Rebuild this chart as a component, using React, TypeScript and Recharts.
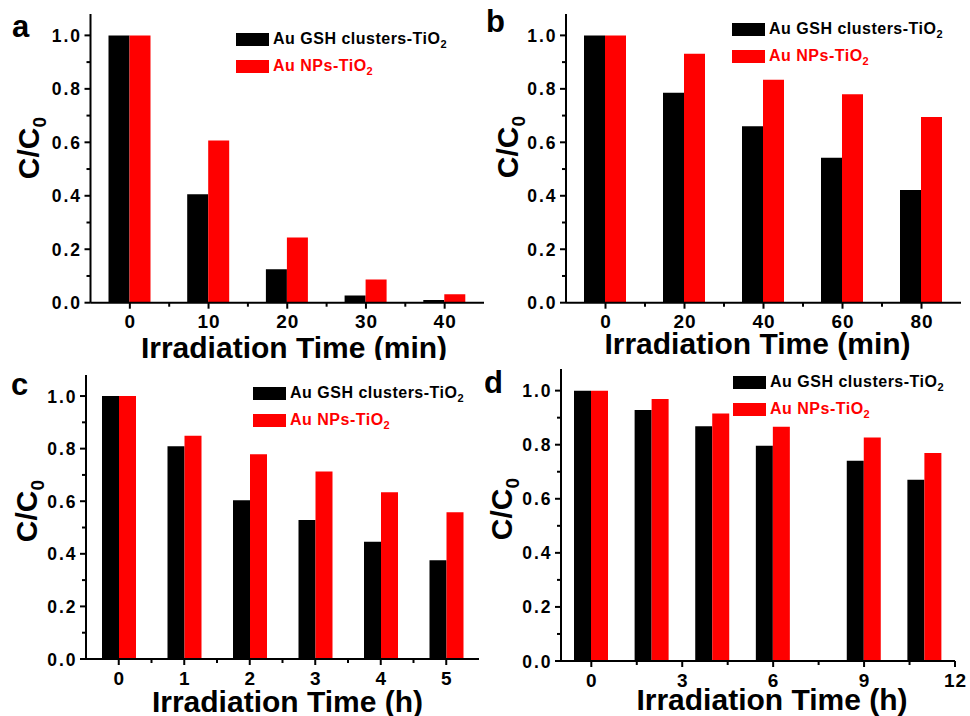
import { BarChart, Bar, XAxis, YAxis, Legend } from 'recharts'

// ─── Data ─────────────────────────────────────────────────────────────────────
const seriesNames = ['Au GSH clusters-TiO', 'Au NPs-TiO']
const seriesColors = ['#000000', '#ff0000']

const timeA = [0, 10, 20, 30, 40]
const gshA = [1.0, 0.406, 0.125, 0.027, 0.01]
const npsA = [1.0, 0.607, 0.244, 0.087, 0.032]

const timeB = [0, 20, 40, 60, 80]
const gshB = [1.0, 0.785, 0.66, 0.542, 0.422]
const npsB = [1.0, 0.931, 0.834, 0.78, 0.695]

const timeC = [0, 1, 2, 3, 4, 5]
const gshC = [1.0, 0.809, 0.604, 0.529, 0.446, 0.376]
const npsC = [1.0, 0.849, 0.779, 0.713, 0.634, 0.558]

const timeD = [0, 2, 4, 6, 9, 11]
const gshD = [1.0, 0.928, 0.868, 0.796, 0.741, 0.67]
const npsD = [1.0, 0.969, 0.915, 0.866, 0.827, 0.769]

const ticksA = [0, 5, 10, 15, 20, 25, 30, 35, 40]
const ticksB = [0, 10, 20, 30, 40, 50, 60, 70, 80]
const ticksC = [0, 0.5, 1, 1.5, 2, 2.5, 3, 3.5, 4, 4.5, 5]
const ticksD = [0, 1.5, 3, 4.5, 6, 7.5, 9, 10.5, 12]
const yTicks = [0, 0.1, 0.2, 0.3, 0.4, 0.5, 0.6, 0.7, 0.8, 0.9, 1.0]

const FONT = '"Liberation Sans", Arial, Helvetica, sans-serif'

const isMajor = (v: number, step: number) => Math.abs(v / step - Math.round(v / step)) < 1e-6

// ─── Panel ────────────────────────────────────────────────────────────────────
interface PanelProps {
  letter: string
  left: number; top: number; width: number; height: number
  plot: { l: number; t: number; r: number; b: number }
  xDomain: [number, number]
  xTicks: number[]
  xStep: number
  xTitle: string
  time: number[]; gsh: number[]; nps: number[]
  barSize: number
  legendPos: { x: number; y: number }
  xTitlePos: { x: number; y: number }
  yTitlePos: { x: number; y: number }
  letterPos: { x: number; y: number }
}

function LegendBox() {
  return (
    <div style={{ fontFamily: FONT, fontWeight: 'bold', fontSize: 16, letterSpacing: 0.5 }}>
      {seriesNames.map((name, i) => (
        <div key={name} style={{ display: 'flex', alignItems: 'center', height: 13, marginBottom: 14, whiteSpace: 'nowrap' }}>
          <div style={{ width: 33, height: 13, background: seriesColors[i] }} />
          <span style={{ marginLeft: 4, color: seriesColors[i], lineHeight: '16px' }}>
            {name}
            <span style={{ fontSize: 11, position: 'relative', top: 4 }}>2</span>
          </span>
        </div>
      ))}
    </div>
  )
}

function Panel(p: PanelProps) {
  const rows = p.time.map((t, i) => ({ t, gsh: p.gsh[i], nps: p.nps[i] }))
  const axisStyle = { stroke: '#000', strokeWidth: 2 }

  const xTick = (props: any) => {
    const { x, y, payload } = props
    const major = isMajor(payload.value, p.xStep)
    return (
      <g>
        <line x1={x} x2={x} y1={y} y2={y + (major ? 6 : 4)} stroke="#000" strokeWidth={2} />
        {major && (
          <text x={x + 0.5} y={y + 25.5} textAnchor="middle" fontFamily={FONT} fontWeight="bold" fontSize={19} letterSpacing={1} fill="#000">
            {payload.value}
          </text>
        )}
      </g>
    )
  }

  const yTick = (props: any) => {
    const { x, y, payload } = props
    const major = isMajor(payload.value, 0.2)
    return (
      <g>
        <line x1={x} x2={x - (major ? 6 : 4)} y1={y} y2={y} stroke="#000" strokeWidth={2} />
        {major && (
          <text x={x - 8.5} y={y + 6.5} textAnchor="end" fontFamily={FONT} fontWeight="bold" fontSize={17.5} letterSpacing={2} fill="#000">
            {payload.value.toFixed(1)}
          </text>
        )}
      </g>
    )
  }

  return (
    <div style={{ position: 'absolute', left: p.left, top: p.top }}>
      <BarChart
        width={p.width}
        height={p.height}
        data={rows}
        barGap={0}
        margin={{ top: p.plot.t, right: p.width - p.plot.r, left: 0, bottom: 0 }}
      >
        <XAxis
          dataKey="t"
          type="number"
          domain={p.xDomain}
          allowDataOverflow
          ticks={p.xTicks}
          interval={0}
          height={p.height - p.plot.b}
          tickSize={0}
          tickMargin={0}
          tickLine={false}
          axisLine={axisStyle}
          tick={xTick}
          label={() => (
            <text x={p.xTitlePos.x} y={p.xTitlePos.y} textAnchor="middle" fontFamily={FONT} fontWeight="bold" fontSize={30} fill="#000">
              {p.xTitle}
            </text>
          )}
        />
        <YAxis
          type="number"
          domain={[0, 1.08]}
          allowDataOverflow
          ticks={yTicks}
          interval={0}
          width={p.plot.l}
          tickSize={0}
          tickMargin={0}
          tickLine={false}
          axisLine={axisStyle}
          tick={yTick}
          label={() => (
            <g>
              <text
                transform={`translate(${p.yTitlePos.x},${p.yTitlePos.y}) rotate(-90)`}
                textAnchor="middle"
                fontFamily={FONT}
                fontWeight="bold"
                fontSize={30}
                fill="#000"
              >
                C/C<tspan fontSize={19} dy={7}>0</tspan>
              </text>
              <text x={p.letterPos.x} y={p.letterPos.y} fontFamily={FONT} fontWeight="bold" fontSize={31} fill="#000">
                {p.letter}
              </text>
            </g>
          )}
        />
        <XAxis xAxisId="top" orientation="top" type="number" domain={p.xDomain} height={0} tick={false} tickLine={false} axisLine={axisStyle} />
        <YAxis yAxisId="right" orientation="right" type="number" domain={[0, 1.08]} width={0} tick={false} tickLine={false} axisLine={axisStyle} />
        <Legend
          layout="horizontal"
          verticalAlign="middle"
          align="center"
          wrapperStyle={{ left: p.legendPos.x, top: p.legendPos.y, width: 'auto', height: 'auto' }}
          content={() => <LegendBox />}
        />
        <Bar dataKey="gsh" name={seriesNames[0]} fill={seriesColors[0]} barSize={p.barSize} isAnimationActive={false} />
        <Bar dataKey="nps" name={seriesNames[1]} fill={seriesColors[1]} barSize={p.barSize} isAnimationActive={false} />
      </BarChart>
    </div>
  )
}

export default function App() {
  return (
    <div style={{ position: 'absolute', left: 0, top: 0, width: 970, height: 716, background: '#fff' }}>
      <Panel
        letter="a" left={0} top={0} width={485} height={360}
        plot={{ l: 90.5, t: 14, r: 484, b: 302.7 }}
        xDomain={[-5, 45]} xTicks={ticksA} xStep={10} xTitle="Irradiation Time (min)"
        time={timeA} gsh={gshA} nps={npsA} barSize={21}
        legendPos={{ x: 236, y: 33 }}
        xTitlePos={{ x: 294, y: 358 }}
        yTitlePos={{ x: 39, y: 148 }}
        letterPos={{ x: 12, y: 37 }}
      />
      <Panel
        letter="b" left={485} top={0} width={485} height={360}
        plot={{ l: 81, t: 14, r: 476, b: 302.7 }}
        xDomain={[-10, 90]} xTicks={ticksB} xStep={20} xTitle="Irradiation Time (min)"
        time={timeB} gsh={gshB} nps={npsB} barSize={21}
        legendPos={{ x: 247, y: 23 }}
        xTitlePos={{ x: 272.5, y: 354 }}
        yTitlePos={{ x: 33, y: 147 }}
        letterPos={{ x: 1, y: 32 }}
      />
      <Panel
        letter="c" left={0} top={360} width={485} height={356}
        plot={{ l: 86, t: 15, r: 479, b: 299 }}
        xDomain={[-0.5, 5.5]} xTicks={ticksC} xStep={1} xTitle="Irradiation Time (h)"
        time={timeC} gsh={gshC} nps={npsC} barSize={17}
        legendPos={{ x: 253, y: 27 }}
        xTitlePos={{ x: 287.5, y: 351.5 }}
        yTitlePos={{ x: 37, y: 151 }}
        letterPos={{ x: 11, y: 35 }}
      />
      <Panel
        letter="d" left={485} top={360} width={485} height={356}
        plot={{ l: 76, t: 9, r: 470, b: 301 }}
        xDomain={[-1, 12]} xTicks={ticksD} xStep={3} xTitle="Irradiation Time (h)"
        time={timeD} gsh={gshD} nps={npsD} barSize={17}
        legendPos={{ x: 248, y: 16 }}
        xTitlePos={{ x: 287, y: 350 }}
        yTitlePos={{ x: 27, y: 149 }}
        letterPos={{ x: -1, y: 33 }}
      />
    </div>
  )
}
